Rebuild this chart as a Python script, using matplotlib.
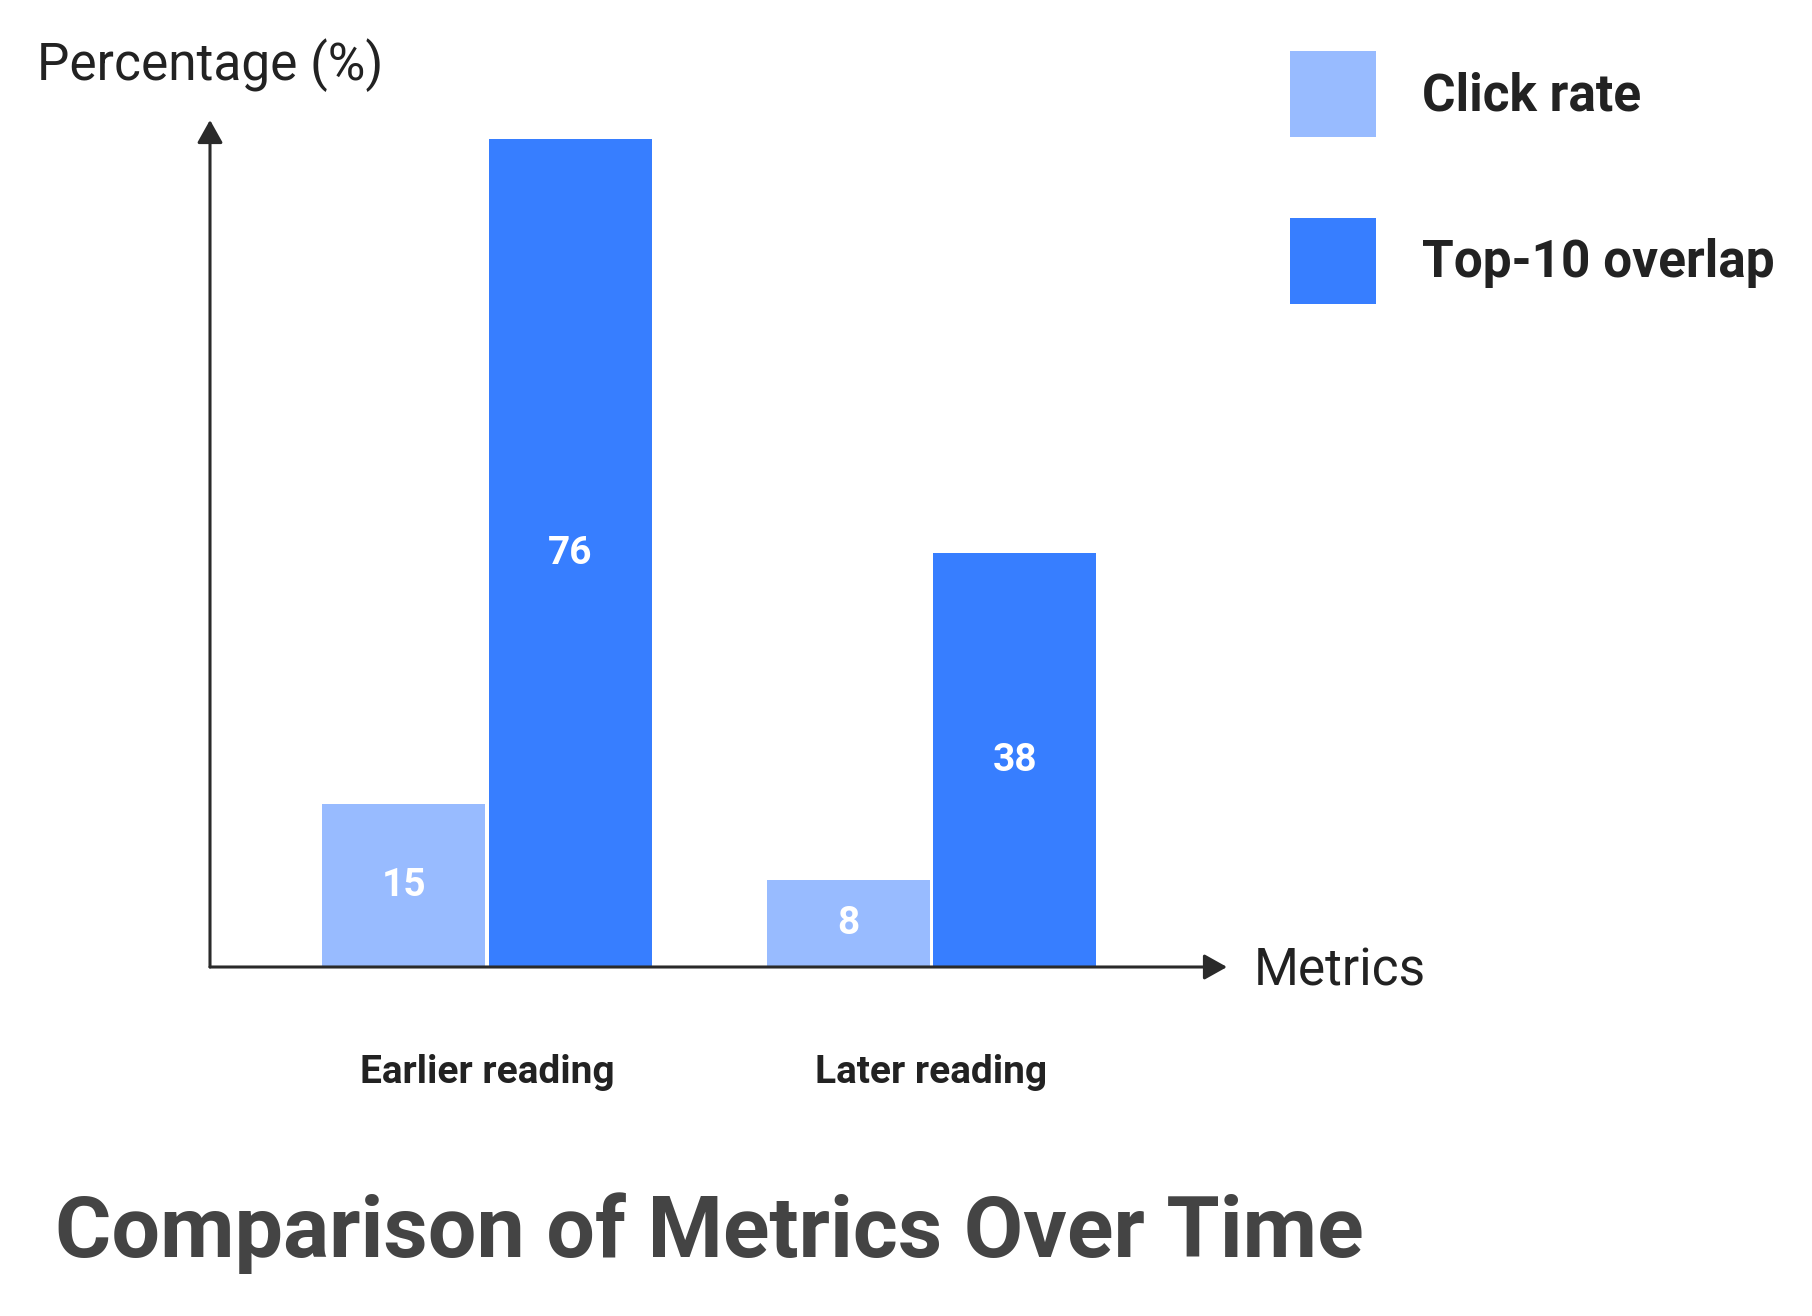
import numpy as np
import matplotlib.pyplot as plt
from matplotlib.patches import Patch

plt.rcParams["font.family"] = ["Roboto", "DejaVu Sans"]

categories = ["Earlier reading", "Later reading"]
series_names = ["Click rate", "Top-10 overlap"]
click_rate = [15, 8]
top10_overlap = [76, 38]

light = "#98BBFF"
dark = "#377EFF"
axis_color = "#2a2a2a"
text_color = "#222222"

W, H = 1812, 1316
fig = plt.figure(figsize=(W / 100, H / 100), dpi=100)

# axes placed in pixel terms
left, right, bottom, top = 210, 1227, 967, 120
ax = fig.add_axes([left / W, 1 - bottom / H, (right - left) / W, (bottom - top) / H])

x = np.arange(len(categories))
width = 0.367
off = 0.1875
b1 = ax.bar(x - off, click_rate, width, color=light, label=series_names[0])
b2 = ax.bar(x + off, top10_overlap, width, color=dark, label=series_names[1])

for bars, vals in [(b1, click_rate), (b2, top10_overlap)]:
    for rect, v in zip(bars, vals):
        ax.text(rect.get_x() + rect.get_width() / 2, v / 2, str(v),
                ha="center", va="center", color="white",
                fontsize=28, fontweight="bold")

ax.set_xlim(-0.624, 1.665)
ax.set_ylim(0, 77.75)
for s in ax.spines.values():
    s.set_visible(False)
ax.set_xticks([])
ax.set_yticks([])

# arrowed axes
arrow = dict(arrowstyle="-|>,head_length=0.5,head_width=0.28", color=axis_color,
             lw=2.2, mutation_scale=28, shrinkA=0, shrinkB=0)
ax.annotate("", xy=(1, 0), xytext=(0, 0), xycoords="axes fraction", arrowprops=arrow)
ax.annotate("", xy=(0, 1), xytext=(0, 0), xycoords="axes fraction", arrowprops=arrow)

for xi, c in zip(x, categories):
    ax.text(xi, -0.125, c, transform=ax.get_xaxis_transform(),
            ha="center", va="center", fontsize=28, fontweight="bold",
            color=text_color)

fig.text(37 / W, 1 - 65 / H, "Percentage (%)", ha="left", va="center",
         fontsize=37, color=text_color)
fig.text(1254 / W, 1 - 985 / H, "Metrics", ha="left", va="baseline",
         fontsize=37, color=text_color)

handles = [Patch(facecolor=light), Patch(facecolor=dark)]
leg = fig.legend(handles, series_names, loc="upper left",
                 bbox_to_anchor=(1290 / W, 1 - 51 / H), frameon=False,
                 prop={"weight": "bold", "size": 37},
                 handlelength=1.67, handleheight=2.2, handletextpad=0.9,
                 labelspacing=1.58, borderpad=0, borderaxespad=0)
for t in leg.get_texts():
    t.set_color(text_color)

fig.text(55 / W, 1 - 1233 / H, "Comparison of Metrics Over Time",
         ha="left", va="center", fontsize=62, fontweight="bold",
         color="#444444")

fig.savefig("out.png", dpi=100)
